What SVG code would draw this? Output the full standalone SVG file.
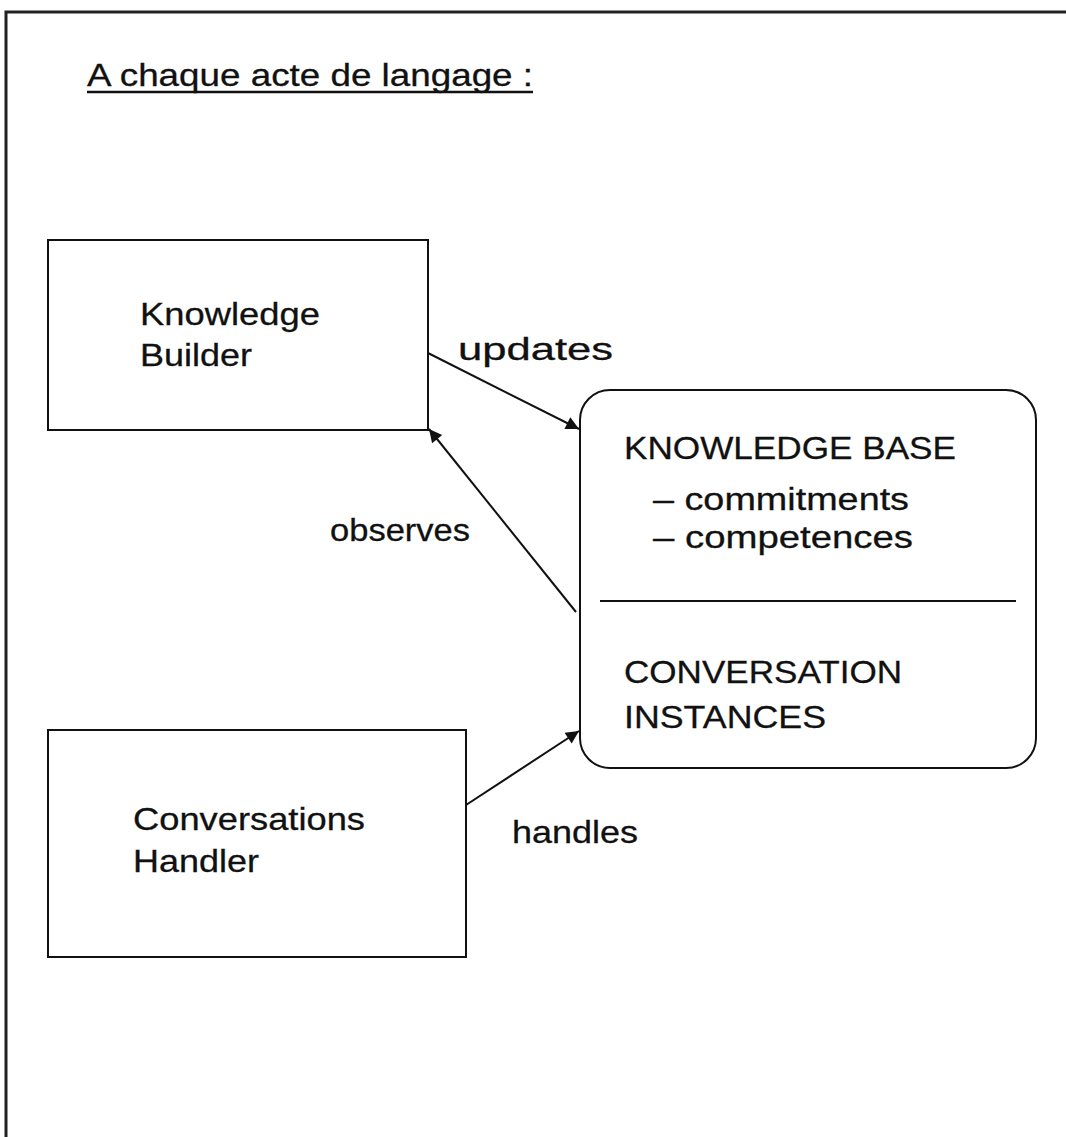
<svg xmlns="http://www.w3.org/2000/svg" width="1066" height="1137" viewBox="0 0 1066 1137">
  <defs>
    <marker id="arrow" viewBox="0 0 10 10" refX="10" refY="5" markerWidth="15" markerHeight="13" markerUnits="userSpaceOnUse" orient="auto">
      <path d="M0,0 L10,5 L0,10 Z" fill="#111"/>
    </marker>
  </defs>
  <style>
    text { font-family: "Liberation Sans", Arial, sans-serif; fill: #111; font-size: 32px; stroke: #111; stroke-width: 0.3; }
    .box { fill: none; stroke: #111; stroke-width: 2; }
    .conn { stroke: #111; stroke-width: 2; fill: none; marker-end: url(#arrow); }
  </style>
  <rect width="1066" height="1137" fill="#fff"/>

  <!-- page frame -->
  <g id="frame">
    <path d="M1066,12 L6,12 L6,1137" fill="none" stroke="#222" stroke-width="3"/>
  </g>

  <!-- title -->
  <g id="title">
    <text x="87" y="86" font-size="31" stroke-width="0.9" textLength="446" lengthAdjust="spacingAndGlyphs">A chaque acte de langage :</text>
    <line x1="87" y1="92" x2="533" y2="92" stroke="#111" stroke-width="2.5"/>
  </g>

  <g id="knowledge-builder">
    <rect class="box" x="48" y="240" width="380" height="190"/>
    <text x="140" y="325" textLength="180" lengthAdjust="spacingAndGlyphs">Knowledge</text>
    <text x="140" y="366" textLength="112" lengthAdjust="spacingAndGlyphs">Builder</text>
  </g>

  <g id="conversations-handler">
    <rect class="box" x="48" y="730" width="418" height="227"/>
    <text x="133" y="830" textLength="232" lengthAdjust="spacingAndGlyphs">Conversations</text>
    <text x="133" y="872" textLength="126" lengthAdjust="spacingAndGlyphs">Handler</text>
  </g>

  <g id="knowledge-base">
    <rect class="box" x="580" y="390" width="456" height="378" rx="30" ry="30"/>
    <line x1="600" y1="601" x2="1016" y2="601" stroke="#111" stroke-width="2"/>
    <text x="624" y="459" textLength="332" lengthAdjust="spacingAndGlyphs">KNOWLEDGE BASE</text>
    <text x="653" y="510" textLength="256" lengthAdjust="spacingAndGlyphs">– commitments</text>
    <text x="653" y="548" textLength="260" lengthAdjust="spacingAndGlyphs">– competences</text>
    <text x="624" y="683" textLength="278" lengthAdjust="spacingAndGlyphs">CONVERSATION</text>
    <text x="624" y="728" textLength="202" lengthAdjust="spacingAndGlyphs">INSTANCES</text>
  </g>

  <g id="connectors">
    <line class="conn" x1="428" y1="353" x2="579" y2="429"/>
    <line class="conn" x1="576" y1="612" x2="429" y2="429"/>
    <line class="conn" x1="466" y1="805" x2="579" y2="731"/>
    <text x="458" y="360" textLength="155" lengthAdjust="spacingAndGlyphs">updates</text>
    <text x="330" y="541" textLength="140" lengthAdjust="spacingAndGlyphs">observes</text>
    <text x="512" y="843" textLength="126" lengthAdjust="spacingAndGlyphs">handles</text>
  </g>
</svg>
